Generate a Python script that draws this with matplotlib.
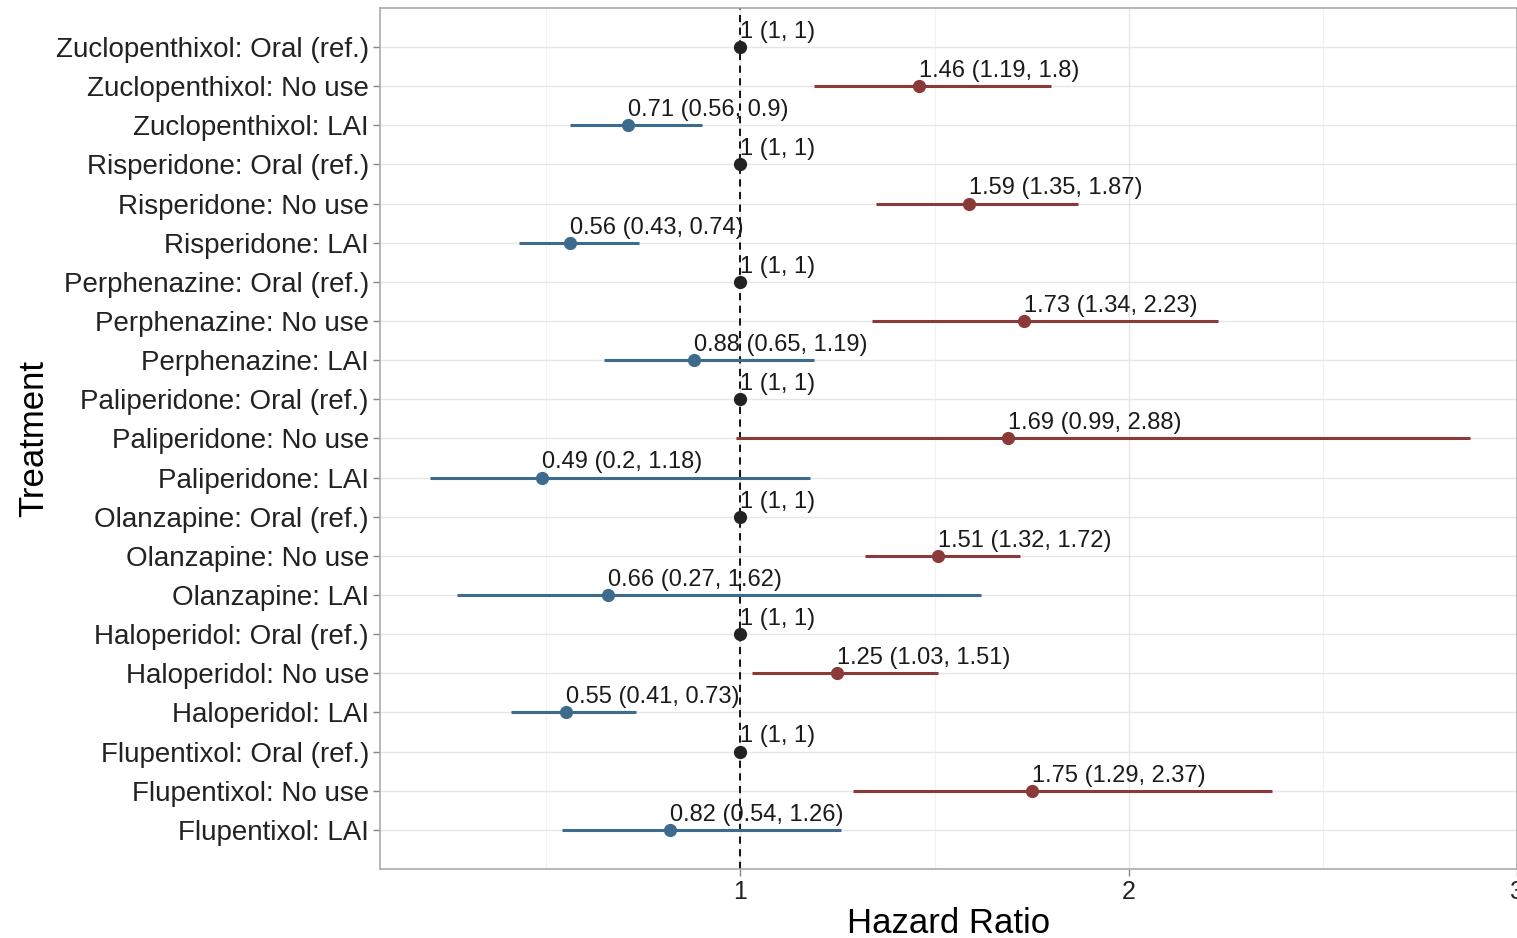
import matplotlib.pyplot as plt
import numpy as np

plt.rcParams['font.family'] = ['Liberation Sans', 'DejaVu Sans']

drugs = ['Zuclopenthixol', 'Risperidone', 'Perphenazine', 'Paliperidone',
         'Olanzapine', 'Haloperidol', 'Flupentixol']
groups = ['Oral (ref.)', 'No use', 'LAI']

# estimate, lower, upper per drug in order Oral / No use / LAI
hr = [1, 1.46, 0.71, 1, 1.59, 0.56, 1, 1.73, 0.88, 1, 1.69, 0.49,
      1, 1.51, 0.66, 1, 1.25, 0.55, 1, 1.75, 0.82]
lower = [1, 1.19, 0.56, 1, 1.35, 0.43, 1, 1.34, 0.65, 1, 0.99, 0.2,
         1, 1.32, 0.27, 1, 1.03, 0.41, 1, 1.29, 0.54]
upper = [1, 1.8, 0.9, 1, 1.87, 0.74, 1, 2.23, 1.19, 1, 2.88, 1.18,
         1, 1.72, 1.62, 1, 1.51, 0.73, 1, 2.37, 1.26]

labels = [f'{d}: {g}' for d in drugs for g in groups]
colors = {'Oral (ref.)': '#222222', 'No use': '#8b3a3a', 'LAI': '#3d6b8e'}

fig = plt.figure(figsize=(15.17, 9.38), dpi=100)
ax = fig.add_axes([0.2505, 0.0736, 0.7495, 0.918])

n = len(labels)
ypos = np.arange(n, 0, -1)

ax.axvline(1, color='black', linestyle=(0, (4, 3)), lw=1.3, zorder=2)

for i, lab in enumerate(labels):
    g = lab.split(': ')[1]
    c = colors[g]
    y = ypos[i]
    ax.plot([lower[i], upper[i]], [y, y], color=c, lw=2.2, solid_capstyle='butt', zorder=3)
    ax.plot(hr[i], y, 'o', color=c, markersize=8.5, zorder=4)
    txt = f'{hr[i]:g} ({lower[i]:g}, {upper[i]:g})'
    ax.annotate(txt, (hr[i], y), xytext=(0, 3), textcoords='offset points',
                ha='left', va='bottom', fontsize=17, color='#1a1a1a', zorder=5)

ax.set_xlim(0.072, 3.0)
ax.set_ylim(0, n + 1)
ax.set_yticks(ypos)
ax.set_yticklabels(labels, fontsize=20, color='#222222')
ax.set_xticks([1, 2, 3])
ax.set_xticklabels(['1', '2', '3'], fontsize=18, color='#222222')
ax.set_xticks([0.5, 1.5, 2.5], minor=True)
ax.tick_params(axis='both', which='major', length=5, color='#888888', width=1, pad=3)
ax.tick_params(axis='x', which='minor', length=0)

ax.grid(True, which='major', color='#e6e6e6', lw=1)
ax.grid(True, which='minor', axis='x', color='#f2f2f2', lw=0.8)
ax.set_axisbelow(True)
for s in ax.spines.values():
    s.set_color('#aaaaaa')
    s.set_linewidth(1.2)

ax.set_xlabel('Hazard Ratio', fontsize=25, labelpad=2)
ax.set_ylabel('Treatment', fontsize=25, labelpad=4)

fig.savefig('out.png', dpi=100)
